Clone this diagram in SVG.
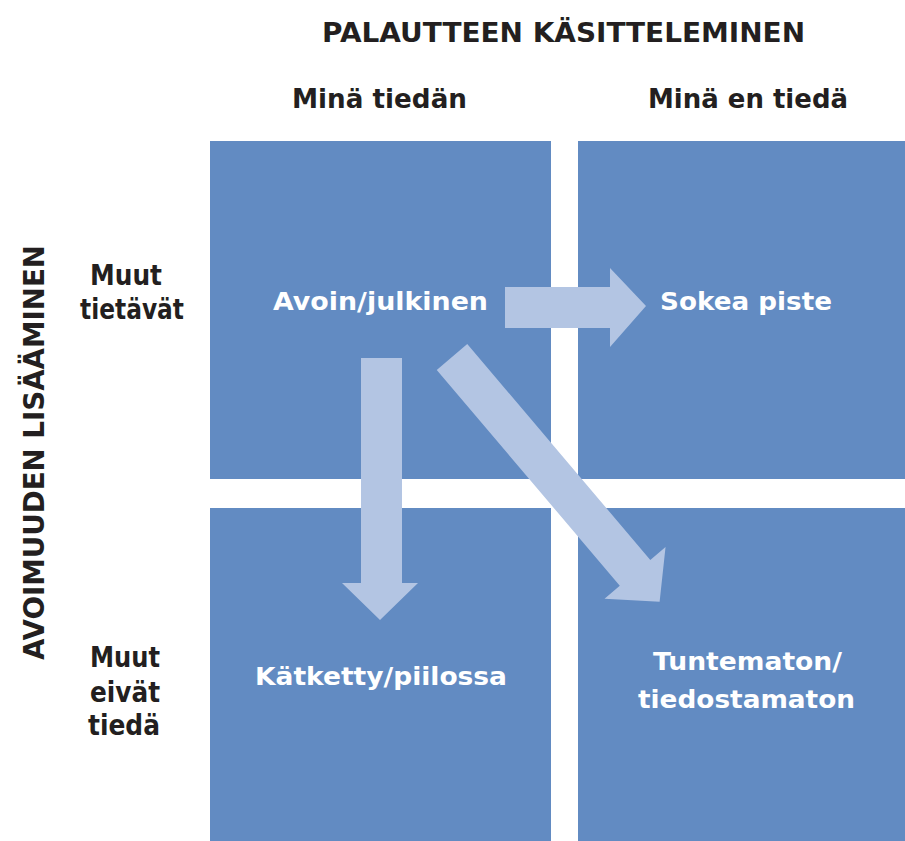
<svg xmlns="http://www.w3.org/2000/svg" width="905" height="841" viewBox="0 0 905 841">
  <style>
    .quad { fill: #628BC2; }
    .arrow { fill: #B3C5E3; }
    .dark { fill: #231F20; font-family: "DejaVu Sans", "Liberation Sans", sans-serif; font-weight: bold; }
    .light { fill: #FFFFFF; font-family: "DejaVu Sans", "Liberation Sans", sans-serif; font-weight: bold; font-size: 25px; }
    .hdr { font-size: 27px; }
    .side { font-size: 28px; }
  </style>
  <rect x="0" y="0" width="905" height="841" fill="#FFFFFF"/>

  <g id="title">
    <text class="dark hdr" x="322" y="42" textLength="483" lengthAdjust="spacingAndGlyphs">PALAUTTEEN KÄSITTELEMINEN</text>
  </g>
  <g id="col-mina-tiedan">
    <text class="dark hdr" x="292" y="108" textLength="175" lengthAdjust="spacingAndGlyphs">Minä tiedän</text>
  </g>
  <g id="col-mina-en-tieda">
    <text class="dark hdr" x="648" y="108" textLength="200" lengthAdjust="spacingAndGlyphs">Minä en tiedä</text>
  </g>
  <g id="axis-avoimuus">
    <text class="dark side" transform="translate(44,660) rotate(-90)" x="0" y="0" textLength="415" lengthAdjust="spacingAndGlyphs">AVOIMUUDEN LISÄÄMINEN</text>
  </g>
  <g id="row-muut-tietavat">
    <text class="dark side" x="90" y="285" textLength="72" lengthAdjust="spacingAndGlyphs">Muut</text>
    <text class="dark side" x="80" y="319" textLength="104" lengthAdjust="spacingAndGlyphs">tietävät</text>
  </g>
  <g id="row-muut-eivat-tieda">
    <text class="dark side" x="90" y="667" textLength="70" lengthAdjust="spacingAndGlyphs">Muut</text>
    <text class="dark side" x="90" y="702" textLength="70" lengthAdjust="spacingAndGlyphs">eivät</text>
    <text class="dark side" x="88" y="735" textLength="72" lengthAdjust="spacingAndGlyphs">tiedä</text>
  </g>

  <g id="quad-avoin">
    <rect class="quad" x="210" y="141" width="341" height="338"/>
  </g>
  <g id="quad-sokea">
    <rect class="quad" x="578" y="141" width="327" height="338"/>
  </g>
  <g id="quad-katketty">
    <rect class="quad" x="210" y="508" width="341" height="333"/>
  </g>
  <g id="quad-tuntematon">
    <rect class="quad" x="578" y="508" width="327" height="333"/>
  </g>

  <g id="connectors">
    <polygon class="arrow" points="505,287 610,287 610,268 646,306 610,347 610,328 505,328"/>
    <polygon class="arrow" points="361,358 402,358 402,583 418,583 380,620 342,583 361,583"/>
    <polygon class="arrow" transform="translate(452,357) rotate(49.7)" points="0,-20 283,-20 283,-40 321,0 283,40 283,20 0,20"/>
  </g>

  <g id="label-avoin">
    <text class="light" x="273" y="310" textLength="215" lengthAdjust="spacingAndGlyphs">Avoin/julkinen</text>
  </g>
  <g id="label-sokea">
    <text class="light" x="660" y="310" textLength="172" lengthAdjust="spacingAndGlyphs">Sokea piste</text>
  </g>
  <g id="label-katketty">
    <text class="light" x="255" y="685" textLength="252" lengthAdjust="spacingAndGlyphs">Kätketty/piilossa</text>
  </g>
  <g id="label-tuntematon">
    <text class="light" x="653" y="670" textLength="189" lengthAdjust="spacingAndGlyphs">Tuntematon/</text>
    <text class="light" x="638" y="708" textLength="217" lengthAdjust="spacingAndGlyphs">tiedostamaton</text>
  </g>
</svg>
